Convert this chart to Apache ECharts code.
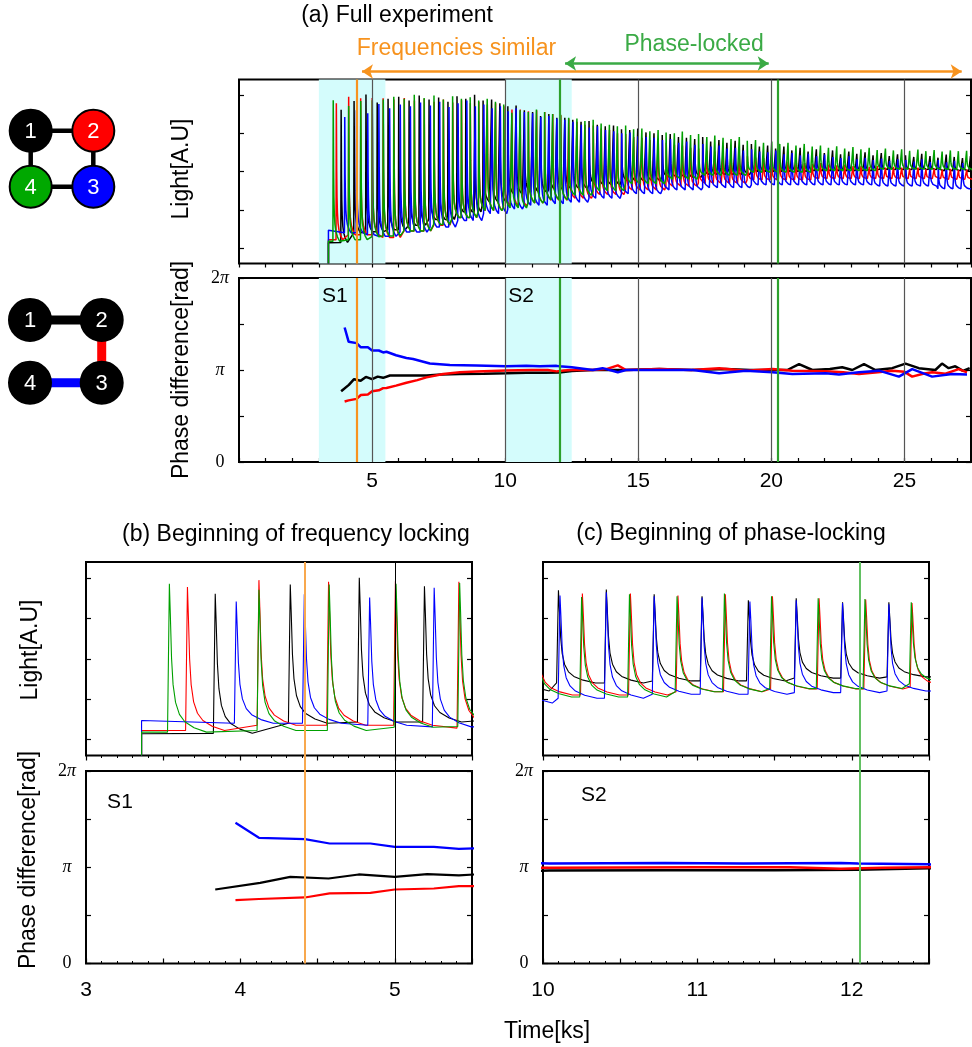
<!DOCTYPE html>
<html>
<head>
<meta charset="utf-8">
<script src="https://cdn.jsdelivr.net/npm/echarts@6/dist/echarts.min.js"></script>
<style>
html,body{margin:0;padding:0;background:#fff;}
#c{width:972px;height:1047px;}
</style>
</head>
<body>
<div id="c"></div>
<script>
// ---------------- DATA ----------------
// Time in ks. Light in arbitrary units. Phase difference in units of pi.
const traceStart = 3.36;
const traceEnd = 27.5;

// Oscillator 1 (black)
const lightBlackTimes = [3.837,4.323,4.770,5.192,5.60,6.00,6.39,6.77,7.14,7.50,7.85,8.19,8.52,8.85,9.17,9.49,9.80,10.10,10.41,10.72,11.03,11.33,11.64,11.94,12.24,12.54,12.85,13.15,13.46,13.76,14.07,14.37,14.68,14.98,15.29,15.59,15.90,16.20,16.51,16.81,17.12,17.42,17.72,18.03,18.33,18.64,18.94,19.25,19.55,19.86,20.16,20.47,20.77,21.08,21.38,21.69,21.99,22.30,22.60,22.91,23.21,23.52,23.82,24.13,24.43,24.74,25.04,25.35,25.65,25.96,26.26,26.57,26.87,27.18,27.48];
const lightBlackPeaks = [4.01,4.24,4.41,4.20,4.30,4.35,4.25,4.38,4.28,4.33,4.22,4.36,4.30,4.40,4.25,4.28,4.18,4.10,4.12,4.00,3.95,3.85,3.90,3.80,3.80,3.75,3.70,3.72,3.62,3.58,3.60,3.50,3.48,3.52,3.42,3.40,3.35,3.38,3.30,3.28,3.25,3.30,3.18,3.22,3.15,3.20,3.10,3.12,3.05,3.08,3.00,3.05,2.95,3.02,2.92,2.98,2.88,2.95,2.85,2.92,2.86,2.90,2.82,2.88,2.80,2.85,2.82,2.78,2.86,2.80,2.76,2.84,2.78,2.75,2.80];
const lightBlackBase = [[3.36,0.54],[4.0,0.55],[4.45,0.8],[5.0,0.83],[5.5,0.88],[6.5,1.0],[7.5,1.15],[8.5,1.35],[9.5,1.6],[10.2,1.8],[11.0,1.85],[11.8,1.92],[12.5,1.95],[13.5,2.05],[15,2.15],[16.5,2.25],[18,2.32],[20,2.4],[22.5,2.42],[25,2.45],[27.5,2.42]];

// Oscillator 2 (red)
const lightRedTimes = [3.657,4.12,4.571,5.004,5.415,5.82,6.21,6.59,6.96,7.33,7.68,8.03,8.36,8.69,9.01,9.33,9.64,9.95,10.255,10.566,10.874,11.181,11.486,11.788,12.09,12.39,12.70,13.00,13.31,13.61,13.92,14.22,14.53,14.83,15.14,15.44,15.75,16.05,16.36,16.66,16.97,17.27,17.58,17.88,18.19,18.49,18.80,19.10,19.41,19.71,20.02,20.32,20.63,20.93,21.24,21.54,21.85,22.15,22.46,22.76,23.07,23.37,23.68,23.98,24.29,24.59,24.90,25.20,25.51,25.81,26.12,26.42,26.73,27.03,27.34];
const lightRedPeaks = [4.18,4.35,4.31,4.32,4.31,4.28,4.32,4.25,4.30,4.22,4.28,4.20,4.26,4.18,4.22,4.15,4.18,4.10,4.02,4.02,3.97,4.00,3.95,3.90,3.87,3.78,3.70,3.62,3.60,3.52,3.48,3.40,3.38,3.30,3.28,3.22,3.20,3.15,3.10,3.08,3.02,3.00,2.95,2.92,2.90,2.85,2.82,2.80,2.76,2.75,2.72,2.70,2.66,2.65,2.62,2.60,2.62,2.58,2.56,2.58,2.54,2.55,2.52,2.54,2.50,2.52,2.50,2.48,2.50,2.46,2.48,2.45,2.47,2.44,2.45];
const lightRedBase = [[3.36,0.62],[4.3,0.75],[5.0,0.75],[5.5,0.68],[6.5,0.85],[7.5,1.0],[8.5,1.2],[9.5,1.38],[10.2,1.5],[11.0,1.58],[11.8,1.65],[12.5,1.7],[13.5,1.8],[15,1.92],[16.5,2.02],[18,2.1],[20,2.18],[22.5,2.22],[25,2.22],[27.5,2.2]];

// Oscillator 3 (blue)
const lightBlueTimes = [3.973,4.414,4.837,5.255,5.66,6.06,6.44,6.82,7.19,7.54,7.89,8.23,8.56,8.88,9.20,9.51,9.82,10.11,10.41,10.72,11.03,11.34,11.64,11.94,12.24,12.55,12.86,13.16,13.47,13.77,14.08,14.38,14.69,14.99,15.30,15.60,15.91,16.21,16.52,16.82,17.13,17.43,17.73,18.04,18.34,18.65,18.95,19.26,19.56,19.87,20.17,20.48,20.78,21.09,21.39,21.70,22.00,22.31,22.61,22.92,23.22,23.53,23.83,24.14,24.44,24.75,25.05,25.36,25.66,25.97,26.27,26.58,26.88,27.19];
const lightBluePeaks = [3.82,4.00,3.92,4.16,4.05,4.15,4.10,4.20,4.12,4.22,4.08,4.18,4.25,4.10,4.15,4.05,4.10,3.97,4.05,3.95,3.92,3.82,3.85,3.78,3.75,3.70,3.62,3.55,3.58,3.48,3.45,3.40,3.42,3.32,3.30,3.28,3.22,3.25,3.15,3.18,3.10,3.12,3.05,3.08,3.00,3.02,2.95,2.98,2.92,2.90,2.95,2.85,2.88,2.82,2.86,2.80,2.84,2.78,2.75,2.80,2.72,2.76,2.70,2.74,2.68,2.72,2.70,2.66,2.72,2.65,2.70,2.64,2.68,2.62];
const lightBlueBase = [[3.36,0.87],[4.3,0.8],[5.0,0.75],[5.5,0.71],[6.5,0.82],[7.5,0.95],[8.5,1.12],[9.5,1.3],[10.2,1.42],[11.0,1.52],[11.8,1.56],[12.5,1.6],[13.5,1.7],[15,1.82],[16.5,1.92],[18,1.98],[20,2.05],[22.5,2.05],[25,2.02],[27.5,1.95]];

// Oscillator 4 (green)
const lightGreenTimes = [3.54,4.12,4.575,5.008,5.42,5.815,6.205,6.585,6.955,7.325,7.675,8.025,8.355,8.685,9.005,9.325,9.635,9.945,10.25,10.56,10.868,11.175,11.48,11.782,12.085,12.385,12.695,12.995,13.305,13.605,13.915,14.215,14.525,14.825,15.135,15.435,15.745,16.045,16.355,16.655,16.965,17.265,17.575,17.875,18.185,18.485,18.795,19.095,19.405,19.705,20.015,20.315,20.625,20.925,21.235,21.535,21.845,22.145,22.455,22.755,23.065,23.365,23.675,23.975,24.285,24.585,24.895,25.195,25.505,25.805,26.115,26.415,26.725,27.025,27.335];
const lightGreenPeaks = [4.26,4.11,4.24,4.26,4.28,4.35,4.30,4.40,4.32,4.38,4.28,4.36,4.30,4.34,4.25,4.30,4.22,4.15,3.93,4.00,3.95,4.02,3.95,3.90,3.88,3.80,3.78,3.72,3.75,3.65,3.62,3.58,3.60,3.50,3.52,3.45,3.48,3.42,3.40,3.44,3.35,3.38,3.30,3.34,3.28,3.25,3.30,3.20,3.22,3.15,3.18,3.12,3.15,3.08,3.12,3.05,3.08,3.02,3.06,3.00,3.04,2.98,3.02,2.96,3.00,2.95,2.98,2.94,2.97,2.93,2.96,2.92,2.95,2.93,2.94];
const lightGreenBase = [[3.36,0.58],[4.3,0.62],[5.0,0.7],[5.5,0.72],[6.5,0.85],[7.5,1.02],[8.5,1.2],[9.5,1.38],[10.2,1.45],[11.0,1.58],[11.8,1.66],[12.5,1.78],[13.5,1.9],[15,2.08],[16.5,2.2],[18,2.3],[20,2.38],[22.5,2.42],[25,2.46],[27.5,2.45]];

// Shape of one light pulse (offset from peak in ks, fraction of height above baseline)
const pulseOffsets = [-0.012, 0, 0.006, 0.014, 0.024, 0.04, 0.065, 0.1, 0.16, 0.24];
const pulseShape   = [0, 1, 0.8, 0.5, 0.32, 0.2, 0.12, 0.07, 0.03, 0];

// Phase differences (units of pi)
const phaseDiff12 = [[3.837,0.769],[4.128,0.838],[4.323,0.90],[4.571,0.883],[4.766,0.925],[5.0,0.90],[5.21,0.928],[5.415,0.915],[5.67,0.94],[6.3,0.94],[7.05,0.94],[7.6,0.95],[8.29,0.957],[9.2,0.96],[10.04,0.965],[10.8,0.97],[11.5,0.97],[12.04,0.974],[12.5,0.99],[13.29,1.0],[14.5,1.0],[15.79,1.01],[17.0,1.0],[18.29,1.01],[19.2,1.0],[20.04,1.0],[20.6,1.0],[21.04,1.065],[21.54,1.0],[22.2,1.01],[22.66,1.03],[23.04,1.0],[23.48,1.065],[23.91,1.0],[24.54,1.02],[25.04,1.07],[25.54,1.02],[26.16,1.0],[26.41,1.07],[26.66,1.02],[26.91,1.04],[27.2,0.99],[27.45,1.02]];
const phaseDiff23 = [[3.968,0.658],[4.12,0.67],[4.418,0.686],[4.578,0.728],[4.842,0.734],[5.0,0.769],[5.253,0.779],[5.415,0.803],[5.54,0.805],[5.9,0.83],[6.29,0.862],[6.7,0.89],[7.04,0.92],[7.67,0.957],[8.3,0.975],[8.92,0.985],[10.04,0.995],[11.0,1.0],[11.6,1.0],[11.93,0.985],[12.2,0.995],[12.5,1.0],[13.29,1.0],[13.8,1.01],[14.23,1.05],[14.54,1.0],[15.79,1.01],[17.0,1.0],[18.04,1.02],[19.04,0.993],[20.04,1.01],[20.79,0.993],[22.04,0.986],[22.7,0.975],[23.29,0.957],[24.0,0.975],[24.54,0.993],[25.0,0.98],[25.29,0.928],[25.7,0.96],[26.04,0.975],[26.54,0.96],[27.04,1.01],[27.35,0.975]];
const phaseDiff34 = [[3.968,1.462],[4.12,1.306],[4.418,1.292],[4.578,1.247],[4.842,1.247],[5.0,1.212],[5.253,1.212],[5.415,1.191],[5.54,1.198],[5.9,1.16],[6.29,1.13],[6.54,1.12],[7.17,1.07],[7.92,1.054],[8.92,1.05],[10.04,1.04],[10.79,1.045],[11.3,1.04],[11.93,1.045],[12.04,1.04],[12.5,1.03],[13.29,1.0],[13.66,1.02],[14.23,0.975],[14.54,1.0],[15.79,1.0],[17.04,1.0],[18.04,0.964],[19.04,0.993],[20.04,0.975],[20.79,0.957],[22.04,0.964],[22.54,0.95],[23.29,0.975],[24.04,0.993],[24.79,0.928],[25.29,1.01],[26.04,0.928],[26.79,0.957],[27.35,0.95]];

// Axis ranges / ticks / markers
const rangeA = [0, 27.5];
const rangeB = [3, 5.5];
const rangeC = [10, 12.5];
const lightRange = [0, 4.8];
const lightTickValues = [0.4, 1.4, 2.4, 3.4, 4.4];
const phaseRange = [0, 2];
const gridLineTimes = [5, 10, 15, 20, 25];
const shadeS1 = [3, 5.5];
const shadeS2 = [10, 12.5];
const freqSimilarTime = 4.42;
const phaseLockTimes = [12.05, 20.25];
const arrowFreq = [4.62, 27.15];
const arrowPhase = [12.25, 19.9];
const sectionLabels = [{text:'S1', at:[3.6, 1.8], panel:'a'}, {text:'S2', at:[10.6, 1.8], panel:'a'}, {text:'S1', at:[3.22, 1.68], panel:'b'}, {text:'S2', at:[10.33, 1.75], panel:'c'}];
const annotationLabels = [{text:'Frequencies similar', at:[8.17, 0.62], color:'orange'}, {text:'Phase-locked', at:[17.1, 0.7], color:'annGreen'}];

// ---------------- CHART ----------------
const FONT = "'Liberation Sans', Arial, Helvetica, sans-serif";
const SERIF = "'Liberation Serif', 'DejaVu Serif', serif";
const C = {black:'#000000', red:'#ff0000', blue:'#0000ff', green:'#00a000',
           orange:'#f7931e', orangeLight:'#f8a84e', dkgreen:'#2ca02c', ltgreen:'#62c062',
           cyan:'#d4fcfc', grid:'#555555', annGreen:'#3aaa45'};

function nearestBase(knots, t) {
  let best = knots[0];
  for (const k of knots) if (Math.abs(k[0] - t) < Math.abs(best[0] - t)) best = k;
  return best[1];
}
function buildTrace(times, peaks, knots) {
  const pts = [[traceStart, 0], [traceStart, knots[0][1]]];
  times.forEach((t, i) => {
    const b = nearestBase(knots, t);
    pulseOffsets.forEach((dt, j) => pts.push([+(t + dt).toFixed(4), b + (peaks[i] - b) * pulseShape[j]]));
  });
  pts.push([traceEnd, knots[knots.length - 1][1]]);
  return pts;
}
const channels = [
  {color:C.black, data:buildTrace(lightBlackTimes, lightBlackPeaks, lightBlackBase)},
  {color:C.red,   data:buildTrace(lightRedTimes, lightRedPeaks, lightRedBase)},
  {color:C.blue,  data:buildTrace(lightBlueTimes, lightBluePeaks, lightBlueBase)},
  {color:C.green, data:buildTrace(lightGreenTimes, lightGreenPeaks, lightGreenBase)}
];
const phases = [
  {color:C.black, data:phaseDiff12},
  {color:C.red, data:phaseDiff23},
  {color:C.blue, data:phaseDiff34}
];

// grids: 0 aL, 1 aP, 2 bL, 3 bP, 4 cL, 5 cP, 6 annotation, 7 b-span, 8 c-span
const gridBoxes = [
  {left:239, top:79.5, width:732, height:184, show:true},
  {left:239, top:278, width:732, height:184, show:true},
  {left:86, top:562, width:386, height:193.5, show:true},
  {left:86, top:771, width:386, height:192.5, show:true},
  {left:543, top:562, width:386, height:193.5, show:true},
  {left:543, top:771, width:386, height:192.5, show:true},
  {left:239, top:30, width:732, height:50, show:false},
  {left:86, top:562, width:386, height:401.5, show:false},
  {left:543, top:562, width:386, height:401.5, show:false}
];
const grid = gridBoxes.map(g => ({
  left:g.left, top:g.top, width:g.width, height:g.height, containLabel:false, outerBoundsMode:'none',
  show:g.show, borderColor:'#000', borderWidth:g.show ? 2 : 0, backgroundColor:'transparent'
}));

const tickLine = {color:'#000', width:1.2};
function xAx(gi, range, interval, opt) {
  return {
    type:'value', gridIndex:gi, min:range[0], max:range[1], interval:interval,
    position:opt.pos || 'bottom', show:opt.show !== false,
    axisLine:{show:false}, splitLine:{show:false},
    axisTick:{show:!!opt.ticks, inside:true, length:opt.tickLen || 4, lineStyle:tickLine},
    minorTick:{show:!!opt.minor, splitNumber:5, length:2.5, lineStyle:{color:'#000', width:1}},
    axisLabel: opt.labels ? {show:true, color:'#000', fontFamily:FONT, fontSize:21, margin:opt.margin || 10, formatter:opt.labels} : {show:false}
  };
}
function yLight(gi, pos) {
  return {type:'value', gridIndex:gi, min:lightRange[0], max:lightRange[1], position:pos,
    axisLine:{show:false}, splitLine:{show:false},
    axisTick:{show:true, inside:true, length:5, lineStyle:tickLine, customValues:lightTickValues},
    axisLabel:{show:false}};
}
function phaseLabel(v) {
  if (v === 0) return '0';
  if (v === 1) return '{p|π}';
  if (v === 2) return '2{p|π}';
  return '';
}
function yPhase(gi, pos, labels) {
  return {type:'value', gridIndex:gi, min:phaseRange[0], max:phaseRange[1], interval:0.5, position:pos,
    axisLine:{show:false}, splitLine:{show:false},
    axisTick:{show:true, inside:true, length:5, lineStyle:tickLine},
    axisLabel: labels ? {show:true, color:'#000', fontFamily:SERIF, fontSize:18, margin:19, align:'center',
      formatter:phaseLabel, rich:{p:{fontStyle:'italic', fontFamily:SERIF, fontSize:18, color:'#000'}}} : {show:false}};
}
function yHidden(gi) { return {type:'value', gridIndex:gi, min:0, max:1, show:false}; }

const labA = v => (v > 0 && v % 5 === 0) ? String(v) : '';
const labInt = v => (Math.abs(v - Math.round(v)) < 1e-9) ? String(Math.round(v)) : '';

const xAxis = [
  xAx(0, rangeA, 1, {pos:'top', ticks:true}),
  xAx(1, rangeA, 1, {ticks:true, labels:labA, margin:9}),
  xAx(2, rangeB, 0.5, {pos:'top', ticks:true, minor:true, tickLen:5}),
  xAx(3, rangeB, 0.5, {ticks:true, minor:true, tickLen:5, labels:labInt, margin:16}),
  xAx(4, rangeC, 0.5, {pos:'top', ticks:true, minor:true, tickLen:5}),
  xAx(5, rangeC, 0.5, {ticks:true, minor:true, tickLen:5, labels:labInt, margin:16}),
  {type:'value', gridIndex:6, min:rangeA[0], max:rangeA[1], show:false},
  {type:'value', gridIndex:7, min:rangeB[0], max:rangeB[1], show:false},
  {type:'value', gridIndex:8, min:rangeC[0], max:rangeC[1], show:false}
];
const yAxis = [
  yLight(0, 'left'), yPhase(1, 'left', true), yLight(2, 'left'), yPhase(3, 'left', true),
  yLight(4, 'left'), yPhase(5, 'left', true), yHidden(6), yHidden(7), yHidden(8),
  yLight(0, 'right'), yPhase(1, 'right', false), yLight(2, 'right'), yPhase(3, 'right', false),
  yLight(4, 'right'), yPhase(5, 'right', false)
];

const series = [];
function vline(times, color, width) {
  return times.map(t => ({xAxis:t, lineStyle:{color:color, width:width, type:'solid'}}));
}
function decor(gi, z, markLineData, markAreaData) {
  const s = {type:'line', xAxisIndex:gi, yAxisIndex:gi, data:[], silent:true, z:z, animation:false, symbol:'none'};
  if (markLineData) s.markLine = {silent:true, symbol:['none','none'], label:{show:false}, animation:false, data:markLineData};
  if (markAreaData) s.markArea = {silent:true, animation:false, itemStyle:{color:C.cyan}, data:markAreaData};
  return s;
}
const shadeData = [[{xAxis:shadeS1[0]}, {xAxis:shadeS1[1]}], [{xAxis:shadeS2[0]}, {xAxis:shadeS2[1]}]];
[0, 1].forEach(gi => {
  series.push(decor(gi, 1, vline(gridLineTimes, C.grid, 1.2), shadeData));
});
series.push(decor(7, 1, vline(gridLineTimes.filter(t => t > rangeB[0] && t < rangeB[1]), '#000', 1), null));

// light traces
[[0, 1.5], [2, 1.1], [4, 1.1]].forEach(([gi, w]) => {
  channels.forEach(ch => series.push({
    type:'line', xAxisIndex:gi, yAxisIndex:gi, data:ch.data, showSymbol:false, symbol:'none',
    lineStyle:{color:ch.color, width:w}, itemStyle:{color:ch.color}, clip:true, silent:true, animation:false, z:2
  }));
});
// phase traces
[[1, 2.5], [3, 2.2], [5, 2.5]].forEach(([gi, w]) => {
  phases.forEach(ph => series.push({
    type:'line', xAxisIndex:gi, yAxisIndex:gi, data:ph.data, showSymbol:false, symbol:'none',
    lineStyle:{color:ph.color, width:w}, itemStyle:{color:ph.color}, clip:true, silent:true, animation:false, z:3
  }));
});
// marker lines on top
[0, 1].forEach(gi => {
  series.push(decor(gi, 5, vline([freqSimilarTime], C.orange, 2.2).concat(vline(phaseLockTimes, C.dkgreen, 2.2)), null));
});
series.push(decor(7, 5, vline([freqSimilarTime].filter(t => t > rangeB[0] && t < rangeB[1]), C.orangeLight, 2), null));
series.push(decor(8, 5, vline(phaseLockTimes.filter(t => t > rangeC[0] && t < rangeC[1]), C.ltgreen, 2), null));

// annotation arrows above (a)
function arrowSeries(range, yv, color) {
  return {type:'line', xAxisIndex:6, yAxisIndex:6, data:[], silent:true, animation:false, z:6,
    markLine:{silent:true, animation:false, symbol:['arrow','arrow'], symbolSize:11, label:{show:false},
      lineStyle:{color:color, width:2.5, type:'solid'},
      data:[[{coord:[range[0], yv]}, {coord:[range[1], yv]}]]}};
}
series.push(arrowSeries(arrowFreq, 0.17, C.orange));
series.push(arrowSeries(arrowPhase, 0.33, C.annGreen));

// ---------------- graphic (titles, axis names, network diagrams) ----------------
const graphic = [];
function txt(text, x, y, size, rot, color) {
  graphic.push({type:'text', x:x, y:y, rotation:rot || 0, z:10, silent:true,
    style:{text:text, fill:color || '#000', font:size + 'px ' + FONT,
      textAlign:'center', textVerticalAlign:'middle', align:'center', verticalAlign:'middle'}});
}
txt('(a) Full experiment', 397, 16, 23);
txt('(b) Beginning of frequency locking', 296, 535, 23);
txt('(c) Beginning of phase-locking', 731, 534, 23);
txt('Light[A.U]', 182, 169, 23, Math.PI / 2);
txt('Phase difference[rad]', 182, 370, 23, Math.PI / 2);
txt('Light[A.U]', 31, 650, 23, Math.PI / 2);
txt('Phase difference[rad]', 29, 860, 23, Math.PI / 2);
txt('Time[ks]', 547, 1032, 23);

const net1 = {nodes:[{id:'1', x:30.7, y:130.7, fill:C.black}, {id:'2', x:93.3, y:130.7, fill:C.red},
                     {id:'3', x:93.3, y:186.7, fill:C.blue}, {id:'4', x:30.7, y:186.7, fill:'#00a800'}],
              edges:[['1','2','#000',4.5], ['2','3','#000',4.5], ['3','4','#000',4.5], ['4','1','#000',4.5]], r:21};
const net2 = {nodes:[{id:'1', x:30, y:320, fill:C.black}, {id:'2', x:101.7, y:320, fill:C.black},
                     {id:'3', x:101.7, y:382.7, fill:C.black}, {id:'4', x:30, y:382.7, fill:C.black}],
              edges:[['1','2','#000',9], ['2','3',C.red,9], ['3','4',C.blue,9]], r:21};
[net1, net2].forEach(net => {
  const pos = {};
  net.nodes.forEach(n => pos[n.id] = n);
  net.edges.forEach(e => graphic.push({type:'line', z:10, silent:true,
    shape:{x1:pos[e[0]].x, y1:pos[e[0]].y, x2:pos[e[1]].x, y2:pos[e[1]].y},
    style:{stroke:e[2], lineWidth:e[3]}}));
  net.nodes.forEach(n => {
    graphic.push({type:'circle', z:11, silent:true, shape:{cx:n.x, cy:n.y, r:net.r},
      style:{fill:n.fill, stroke:'#000', lineWidth:2}});
    graphic.push({type:'text', z:12, silent:true, x:n.x, y:n.y + 1,
      style:{text:n.id, fill:'#fff', font:'22px ' + FONT, textAlign:'center', textVerticalAlign:'middle', align:'center', verticalAlign:'middle'}});
  });
});

const chart = echarts.init(document.getElementById('c'), null, {renderer:'canvas'});
chart.setOption({
  backgroundColor:'#ffffff',
  animation:false,
  grid:grid,
  xAxis:xAxis,
  yAxis:yAxis,
  series:series,
  graphic:graphic
});

// texts anchored to data coordinates
const panelGrid = {a:1, b:3, c:5};
sectionLabels.forEach(s => {
  const gi = panelGrid[s.panel];
  const p = chart.convertToPixel({xAxisIndex:gi, yAxisIndex:gi}, s.at);
  txt(s.text, p[0], p[1], 21);
});
annotationLabels.forEach(a => {
  const p = chart.convertToPixel({xAxisIndex:6, yAxisIndex:6}, a.at);
  txt(a.text, p[0], p[1], 23, 0, C[a.color]);
});
chart.setOption({graphic:graphic});
</script>
</body>
</html>
